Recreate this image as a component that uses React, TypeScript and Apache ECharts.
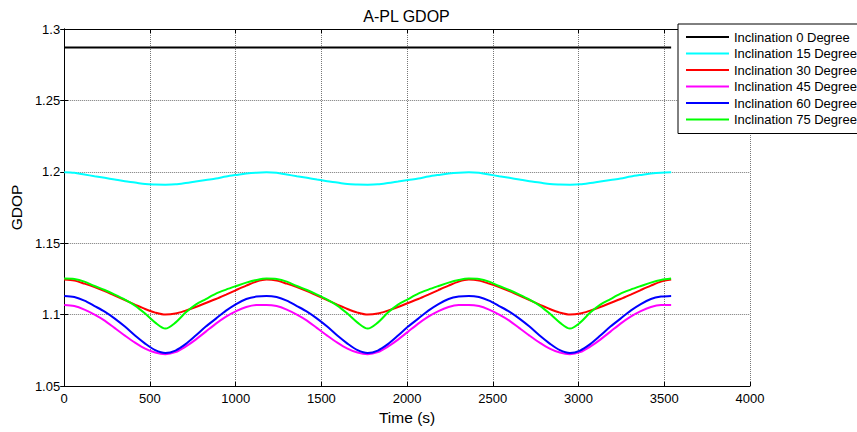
import React, { useEffect, useRef } from "react";
import * as echarts from "echarts";

const times = [
  0, 59, 118, 177, 236, 295, 354, 413, 472, 531, 590, 649, 708, 767, 826, 885, 944, 1003, 1062, 1121, 1180,
  1239, 1298, 1357, 1416, 1475, 1534, 1593, 1652, 1711, 1770, 1829, 1888, 1947, 2006, 2065, 2124, 2183, 2242, 2301, 2360,
  2419, 2478, 2537, 2596, 2655, 2714, 2773, 2832, 2891, 2950, 3009, 3068, 3127, 3186, 3245, 3304, 3363, 3422, 3481, 3540,
];

const inc0Times = [0, 3540];
const inc0 = [1.287, 1.287];

const inc15 = [
  1.1997, 1.1993, 1.1981, 1.1969, 1.1958, 1.1946, 1.1934, 1.1925, 1.1914, 1.1911, 1.191, 1.1912, 1.1921, 1.1932, 1.1943, 1.1953, 1.1967, 1.1978, 1.1988, 1.1994, 1.1996,
  1.1993, 1.1981, 1.1969, 1.1958, 1.1946, 1.1934, 1.1925, 1.1914, 1.1911, 1.191, 1.1912, 1.1921, 1.1932, 1.1943, 1.1953, 1.1967, 1.1978, 1.1988, 1.1994, 1.1996,
  1.1993, 1.1981, 1.1969, 1.1958, 1.1946, 1.1934, 1.1925, 1.1914, 1.1911, 1.191, 1.1912, 1.1921, 1.1932, 1.1943, 1.1953, 1.1967, 1.1978, 1.1988, 1.1994, 1.1996,
];

const inc30 = [
  1.1245, 1.1238, 1.1217, 1.1193, 1.1165, 1.1133, 1.1102, 1.107, 1.1039, 1.1014, 1.1, 1.1007, 1.1028, 1.1053, 1.1081, 1.1109, 1.114, 1.1172, 1.1203, 1.1231, 1.1245,
  1.1238, 1.1217, 1.1193, 1.1165, 1.1133, 1.1102, 1.107, 1.1039, 1.1014, 1.1, 1.1007, 1.1028, 1.1053, 1.1081, 1.1109, 1.114, 1.1172, 1.1203, 1.1231, 1.1245,
  1.1238, 1.1217, 1.1193, 1.1165, 1.1133, 1.1102, 1.107, 1.1039, 1.1014, 1.1, 1.1007, 1.1028, 1.1053, 1.1081, 1.1109, 1.114, 1.1172, 1.1203, 1.1231, 1.1245,
];

const inc45 = [
  1.1068, 1.106, 1.1035, 1.1, 1.0958, 1.0905, 1.0853, 1.0804, 1.0762, 1.0734, 1.0723, 1.0737, 1.0776, 1.0825, 1.0881, 1.0937, 1.0986, 1.1025, 1.1053, 1.1067, 1.1068,
  1.106, 1.1035, 1.1, 1.0958, 1.0905, 1.0853, 1.0804, 1.0762, 1.0734, 1.0723, 1.0737, 1.0776, 1.0825, 1.0881, 1.0937, 1.0986, 1.1025, 1.1053, 1.1067, 1.1068,
  1.106, 1.1035, 1.1, 1.0958, 1.0905, 1.0853, 1.0804, 1.0762, 1.0734, 1.0723, 1.0737, 1.0776, 1.0825, 1.0881, 1.0937, 1.0986, 1.1025, 1.1053, 1.1067, 1.1068,
];

const inc60 = [
  1.1131, 1.1123, 1.1098, 1.106, 1.1021, 1.0972, 1.0916, 1.0853, 1.0797, 1.0751, 1.0731, 1.0748, 1.0793, 1.0853, 1.0916, 1.0972, 1.1028, 1.1074, 1.1109, 1.1126, 1.1131,
  1.1123, 1.1098, 1.106, 1.1021, 1.0972, 1.0916, 1.0853, 1.0797, 1.0751, 1.0731, 1.0748, 1.0793, 1.0853, 1.0916, 1.0972, 1.1028, 1.1074, 1.1109, 1.1126, 1.1131,
  1.1123, 1.1098, 1.106, 1.1021, 1.0972, 1.0916, 1.0853, 1.0797, 1.0751, 1.0731, 1.0748, 1.0793, 1.0853, 1.0916, 1.0972, 1.1028, 1.1074, 1.1109, 1.1126, 1.1131,
];

const inc75 = [
  1.1252, 1.1249, 1.1231, 1.12, 1.1172, 1.114, 1.1105, 1.1063, 1.1007, 1.0944, 1.0902, 1.0944, 1.1014, 1.107, 1.1109, 1.1147, 1.1175, 1.12, 1.1224, 1.1242, 1.1252,
  1.1249, 1.1231, 1.12, 1.1172, 1.114, 1.1105, 1.1063, 1.1007, 1.0944, 1.0902, 1.0944, 1.1014, 1.107, 1.1109, 1.1147, 1.1175, 1.12, 1.1224, 1.1242, 1.1252,
  1.1249, 1.1231, 1.12, 1.1172, 1.114, 1.1105, 1.1063, 1.1007, 1.0944, 1.0902, 1.0944, 1.1014, 1.107, 1.1109, 1.1147, 1.1175, 1.12, 1.1224, 1.1242, 1.1252,
];

const seriesNames = [
  "Inclination 0 Degree",
  "Inclination 15 Degree",
  "Inclination 30 Degree",
  "Inclination 45 Degree",
  "Inclination 60 Degree",
  "Inclination 75 Degree",
];
const seriesColors = ["#000000", "#00ffff", "#ff0000", "#ff00ff", "#0000ff", "#00ff00"];

const FONT = "'Liberation Sans', Arial, sans-serif";

function pairs(xs: number[], ys: number[]) {
  return xs.map((x, i) => [x, ys[i]]);
}

export default function App() {
  const ref = useRef<HTMLDivElement>(null);
  useEffect(() => {
    if (!ref.current) return;
    const chart = echarts.init(ref.current, undefined, { renderer: "svg" });
    const seriesData = [
      pairs(inc0Times, inc0),
      pairs(times, inc15),
      pairs(times, inc30),
      pairs(times, inc45),
      pairs(times, inc60),
      pairs(times, inc75),
    ];
    const axisLineStyle = { color: "#000", width: 1 };
    const tick = { show: true, inside: true, length: 4, lineStyle: { color: "#000", width: 1 } };
    const gridLine = { show: true, lineStyle: { color: "#777", width: 1, type: "dotted" } };
    chart.setOption({
      animation: false,
      backgroundColor: "#fff",
      textStyle: { fontFamily: FONT },
      grid: { left: 63, right: 107, top: 29, bottom: 46, containLabel: false },
      graphic: [
        {
          type: "text",
          x: 406.5,
          y: 16,
          style: {
            text: "A-PL GDOP",
            fontSize: 16,
            fontFamily: FONT,
            fill: "#000",
            align: "center",
            verticalAlign: "middle",
          },
        },
      ],
      legend: {
        orient: "vertical",
        left: 678,
        top: 24,
        z: 10,
        padding: [6, 40, 7, 8],
        itemWidth: 43,
        itemHeight: 2,
        itemGap: 2.5,
        icon: "rect",
        backgroundColor: "#fff",
        borderColor: "#000",
        borderWidth: 1,
        borderRadius: 0,
        textStyle: { fontSize: 13, lineHeight: 14, color: "#000", fontFamily: FONT },
        data: seriesNames,
      },
      xAxis: [
        {
          type: "value",
          min: 0,
          max: 4000,
          interval: 500,
          position: "bottom",
          name: "Time (s)",
          nameLocation: "middle",
          nameGap: 23,
          nameTextStyle: { fontSize: 15.5, color: "#000", fontFamily: FONT },
          axisLine: { show: true, lineStyle: axisLineStyle },
          axisTick: tick,
          axisLabel: {
            color: "#000",
            fontSize: 13,
            margin: 6,
            fontFamily: FONT,
            formatter: (v: number) => String(v),
          },
          splitLine: gridLine,
        },
        {
          type: "value",
          min: 0,
          max: 4000,
          interval: 500,
          position: "top",
          axisLine: { show: true, lineStyle: axisLineStyle },
          axisTick: tick,
          axisLabel: { show: false },
          splitLine: { show: false },
        },
      ],
      yAxis: [
        {
          type: "value",
          min: 1.05,
          max: 1.3,
          interval: 0.05,
          position: "left",
          name: "GDOP",
          nameLocation: "middle",
          nameGap: 36,
          nameTextStyle: { fontSize: 15.5, color: "#000", fontFamily: FONT },
          axisLine: { show: true, lineStyle: axisLineStyle },
          axisTick: tick,
          axisLabel: {
            color: "#000",
            fontSize: 13,
            margin: 4,
            fontFamily: FONT,
            formatter: (v: number) => String(parseFloat(v.toFixed(2))),
          },
          splitLine: gridLine,
        },
        {
          type: "value",
          min: 1.05,
          max: 1.3,
          interval: 0.05,
          position: "right",
          axisLine: { show: true, lineStyle: axisLineStyle },
          axisTick: tick,
          axisLabel: { show: false },
          splitLine: { show: false },
        },
      ],
      series: seriesNames.map((name, i) => ({
        name,
        type: "line",
        xAxisIndex: 0,
        yAxisIndex: 0,
        data: seriesData[i],
        showSymbol: false,
        symbol: "none",
        smooth: 0.3,
        color: seriesColors[i],
        lineStyle: { color: seriesColors[i], width: 2 },
        z: 3,
      })),
    });
    return () => chart.dispose();
  }, []);
  return (
    <div
      ref={ref}
      style={{ position: "fixed", left: 0, top: 0, width: 857, height: 432 }}
    />
  );
}
